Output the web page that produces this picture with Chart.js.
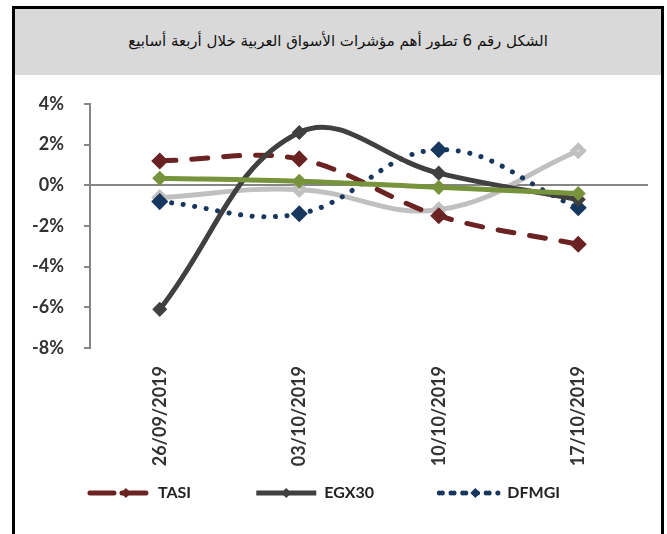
<!DOCTYPE html>
<html>
<head>
<meta charset="utf-8">
<script src="https://cdn.jsdelivr.net/npm/chart.js@4.4.1/dist/chart.umd.min.js"></script>
<style>
  html, body { margin: 0; padding: 0; background: #fff; }
  body { width: 667px; height: 534px; position: relative; overflow: hidden; }
  .frame { position: absolute; left: 12px; top: 6px; width: 646px; height: 540px;
           border: 3px solid #000; border-bottom: none; }
  .titre { position: absolute; left: 15px; top: 9px; width: 646px; height: 66px;
           background: #d9d9d9; text-align: center; line-height: 64px;
           font-family: "DejaVu Sans", sans-serif; font-size: 15px; color: #111; }
  .zone { position: absolute; left: 0px; top: 76px; width: 660px; height: 458px; }
</style>
</head>
<body>
<div class="frame"></div>
<div class="titre" dir="rtl">الشكل رقم 6 تطور أهم مؤشرات الأسواق العربية خلال أربعة أسابيع</div>
<div class="zone"><canvas id="graficoMercados"></canvas></div>
<script>
// Datos (%)
const semanas = ['26/09/2019', '03/10/2019', '10/10/2019', '17/10/2019'];
const tasi = [1.2, 1.3, -1.5, -2.9];
const egx30 = [-6.1, 2.6, 0.6, -0.7];
const dfmgi = [-0.8, -1.4, 1.75, -1.1];
const serieGris = [-0.6, -0.2, -1.2, 1.7];
const serieVerde = [0.35, 0.2, -0.1, -0.4];
const ticksY = [4, 2, 0, -2, -4, -6, -8];

// Rombos en la leyenda
const rombosLeyenda = {
    id: 'rombosLeyenda',
    afterDraw(chart) {
        const leg = chart.legend;
        if (!leg || !leg.legendHitBoxes) return;
        const c = chart.ctx;
        leg.legendItems.forEach((item, i) => {
            const hb = leg.legendHitBoxes[i];
            const ds = chart.data.datasets[item.datasetIndex];
            const x = hb.left + 60 * (item.datasetIndex === 1 ? 0.5 : 0.6);
            const y = hb.top + hb.height / 2;
            const r = 5;
            c.save();
            c.fillStyle = ds.backgroundColor;
            c.beginPath();
            c.moveTo(x, y - r);
            c.lineTo(x + r, y);
            c.lineTo(x, y + r);
            c.lineTo(x - r, y);
            c.closePath();
            c.fill();
            c.restore();
        });
    }
};

const ctx = document.getElementById('graficoMercados').getContext('2d');
new Chart(ctx, {
    type: 'line',
    data: {
        labels: semanas,
        datasets: [{
            label: 'TASI',
            data: tasi,
            borderColor: '#6b2222',
            backgroundColor: '#6b2222',
            borderWidth: 5,
            borderDash: [16, 16],
            borderCapStyle: 'round',
            pointStyle: 'rectRot',
            pointRadius: 5,
            tension: 0.35,
            order: 3
        }, {
            label: 'EGX30',
            data: egx30,
            borderColor: '#404040',
            backgroundColor: '#404040',
            borderWidth: 5,
            borderCapStyle: 'round',
            pointStyle: 'rectRot',
            pointRadius: 4,
            tension: 0.4,
            order: 2
        }, {
            label: 'DFMGI',
            data: dfmgi,
            borderColor: '#17375e',
            backgroundColor: '#17375e',
            borderWidth: 5,
            borderDash: [0.1, 11.6],
            borderCapStyle: 'round',
            pointStyle: 'rectRot',
            pointRadius: 5,
            tension: 0.4,
            order: 4
        }, {
            label: 'gris',
            data: serieGris,
            borderColor: '#c0c0c0',
            backgroundColor: '#d9d9d9',
            borderWidth: 5,
            pointStyle: 'rectRot',
            pointRadius: 5,
            tension: 0.4,
            order: 5
        }, {
            label: 'verde',
            data: serieVerde,
            borderColor: '#77933c',
            backgroundColor: '#77933c',
            borderWidth: 5,
            pointStyle: 'rectRot',
            pointRadius: 4,
            tension: 0.3,
            order: 1
        }]
    },
    options: {
        responsive: true,
        maintainAspectRatio: false,
        animation: false,
        layout: { padding: { top: 28, right: 12, bottom: 23, left: 2 } },
        plugins: {
            tooltip: { enabled: false },
            legend: {
                position: 'bottom',
                labels: {
                    filter: item => item.datasetIndex < 3,
                    sort: (a, b) => a.datasetIndex - b.datasetIndex,
                    generateLabels: chart => {
                        const base = Chart.defaults.plugins.legend.labels.generateLabels(chart);
                        return base.map(it => {
                            if (it.datasetIndex < 2) it.text = it.text + '                ';
                            return it;
                        });
                    },
                    boxWidth: 60,
                    boxHeight: 0,
                    padding: 3,
                    color: '#222',
                    font: { family: 'Lato', size: 16, weight: 'bold' }
                }
            }
        },
        scales: {
            x: {
                offset: true,
                border: { display: false },
                grid: { display: false, drawTicks: false },
                afterFit: axis => { axis.height = 134; },
                ticks: {
                    minRotation: 90,
                    maxRotation: 90,
                    padding: 18,
                    color: '#333',
                    font: { family: 'Lato', size: 18, weight: 'bold' }
                }
            },
            y: {
                min: -8,
                max: 4,
                border: { display: true, color: '#868686', width: 2 },
                grid: {
                    color: c => c.tick.value === 0 ? '#868686' : 'rgba(0,0,0,0)',
                    lineWidth: 2,
                    tickColor: '#868686',
                    tickLength: 6
                },
                afterBuildTicks: axis => { axis.ticks = ticksY.map(v => ({ value: v })); },
                afterFit: axis => {
                    axis.width = 88;
                    axis.paddingTop = 0;
                    axis.paddingBottom = 0;
                },
                ticks: {
                    autoSkip: false,
                    padding: 20,
                    color: '#333',
                    font: { family: 'Lato', size: 18, weight: 'bold' },
                    callback: v => v + '%'
                }
            }
        }
    },
    plugins: [rombosLeyenda]
});
</script>
</body>
</html>
